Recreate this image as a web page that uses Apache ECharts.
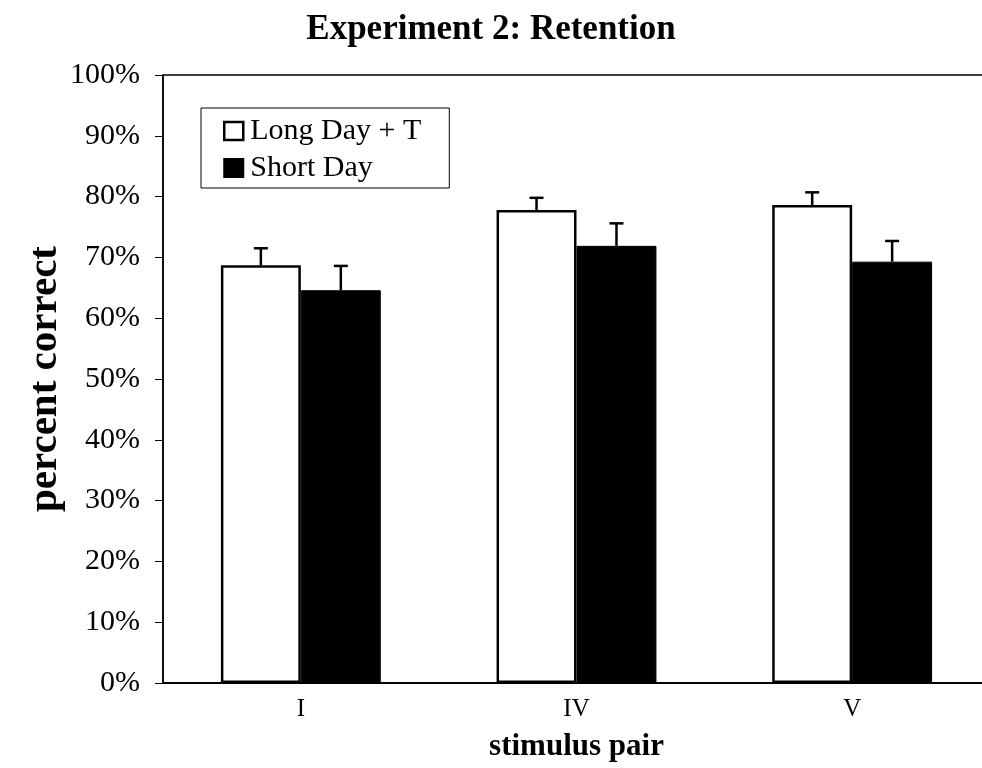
<!DOCTYPE html>
<html>
<head>
<meta charset="utf-8">
<script src="https://cdn.jsdelivr.net/npm/echarts@6/dist/echarts.min.js"></script>
<style>
  html, body { margin: 0; padding: 0; background: #fff; }
  #chart { width: 982px; height: 768px; }
</style>
</head>
<body>
<div id="chart"></div>
<script>
// Stimulus pairs on the x axis
const categories = ['I', 'IV', 'V'];
// Mean percent correct per group
const longDayT = [68.7, 77.8, 78.6];
const shortDay = [64.6, 71.9, 69.3];
// Upper error (standard error) per group
const longDayTErr = [2.8, 2.0, 2.1];
const shortDayErr = [4.0, 3.7, 3.4];
// Y axis ticks
const yTicks = [0, 10, 20, 30, 40, 50, 60, 70, 80, 90, 100];

const serif = '"Liberation Serif", "DejaVu Serif", serif';
const BAR_FRACTION = 0.29;

// Upward whisker with a cap, placed over the bar of the given series slot
function errorBar(values, errors, slot) {
  return {
    type: 'custom',
    z: 5,
    silent: true,
    data: categories.map((c, i) => [i, values[i], values[i] + errors[i]]),
    renderItem: function (params, api) {
      const catW = api.size([1, 0])[0];
      const barW = catW * BAR_FRACTION;
      const base = api.coord([api.value(0), api.value(1)]);
      const top = api.coord([api.value(0), api.value(2)]);
      const x = base[0] + slot * barW / 2;
      const half = 7;
      const style = { stroke: '#000', lineWidth: 2.5 };
      return {
        type: 'group',
        children: [
          { type: 'line', shape: { x1: x, y1: base[1], x2: x, y2: top[1] }, style: style },
          { type: 'line', shape: { x1: x - half, y1: top[1], x2: x + half, y2: top[1] }, style: style }
        ]
      };
    }
  };
}

const chart = echarts.init(document.getElementById('chart'));
chart.setOption({
  animation: false,
  backgroundColor: '#fff',
  title: {
    text: 'Experiment 2: Retention',
    left: 'center',
    top: 7,
    textStyle: { fontFamily: serif, fontWeight: 'bold', fontSize: 35, color: '#000' }
  },
  legend: {
    data: [
      { name: 'Long Day + T', itemStyle: { color: '#fff', borderColor: '#000', borderWidth: 2.5 } },
      { name: 'Short Day' }
    ],
    left: 201,
    top: 108,
    orient: 'vertical',
    icon: 'rect',
    itemWidth: 19,
    itemHeight: 18,
    itemGap: 7,
    padding: [8, 28, 5, 22],
    borderColor: '#000',
    borderWidth: 1,
    textStyle: { fontFamily: serif, fontSize: 30, color: '#000', padding: [0, 0, 0, 2] }
  },
  grid: {
    left: 163, width: 827, top: 75, bottom: 85,
    outerBoundsMode: 'none',
    show: true, borderColor: '#000', borderWidth: 1.5
  },
  xAxis: {
    type: 'category',
    data: categories,
    name: 'stimulus pair',
    nameLocation: 'middle',
    nameGap: 48,
    nameMoveOverlap: false,
    nameTextStyle: { fontFamily: serif, fontWeight: 'bold', fontSize: 31, color: '#000' },
    axisLine: { lineStyle: { color: '#000', width: 2 } },
    axisTick: { show: false },
    axisLabel: { fontFamily: serif, fontSize: 25, color: '#000', margin: 14 }
  },
  yAxis: {
    type: 'value',
    min: yTicks[0],
    max: yTicks[yTicks.length - 1],
    interval: 10,
    name: 'percent correct',
    nameLocation: 'middle',
    nameGap: 97,
    nameMoveOverlap: false,
    nameTextStyle: { fontFamily: serif, fontWeight: 'bold', fontSize: 41, color: '#000' },
    axisLine: { show: true, lineStyle: { color: '#000', width: 1.5 } },
    axisTick: { show: true, length: 8, lineStyle: { color: '#000' } },
    splitLine: { show: false },
    axisLabel: { fontFamily: serif, fontSize: 30, color: '#000', margin: 23, formatter: '{value}%' }
  },
  series: [
    {
      name: 'Long Day + T',
      type: 'bar',
      data: longDayT,
      barWidth: (BAR_FRACTION * 100) + '%',
      barGap: '0%',
      itemStyle: { color: '#fff', borderColor: '#000', borderWidth: 2.5 }
    },
    {
      name: 'Short Day',
      type: 'bar',
      data: shortDay,
      barWidth: (BAR_FRACTION * 100) + '%',
      barGap: '0%',
      itemStyle: { color: '#000', borderColor: '#000', borderWidth: 1 }
    },
    errorBar(longDayT, longDayTErr, -1),
    errorBar(shortDay, shortDayErr, 1)
  ]
});
</script>
</body>
</html>
